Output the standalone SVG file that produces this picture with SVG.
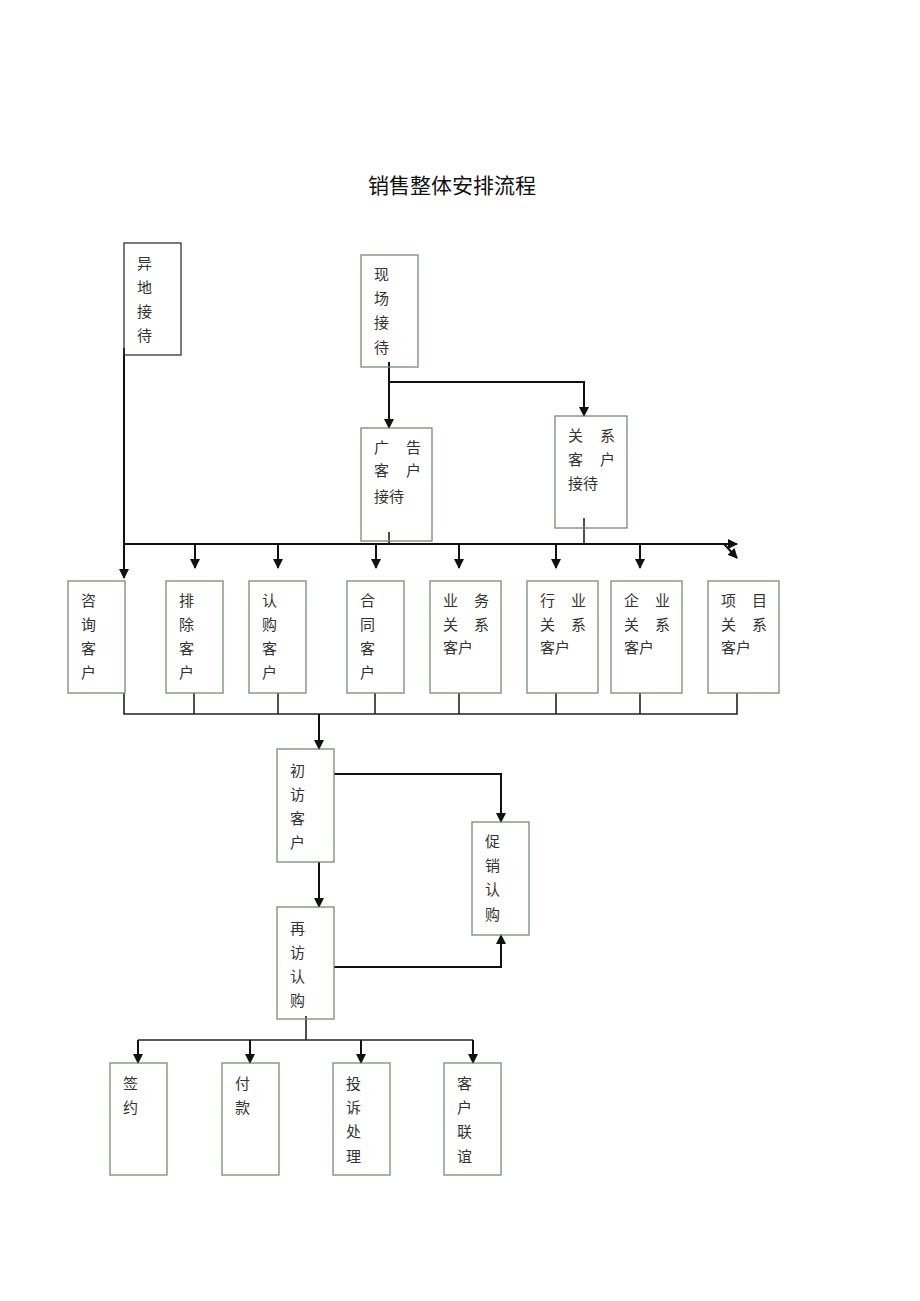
<svg xmlns="http://www.w3.org/2000/svg" width="920" height="1301" viewBox="0 0 920 1301">
<defs>
<marker id="ah" viewBox="0 0 10 10" refX="9" refY="5" markerWidth="10" markerHeight="10" markerUnits="userSpaceOnUse" orient="auto">
<path d="M0,0 L10,5 L0,10 Z" fill="#111"/>
</marker>
<style>
.box{fill:none;stroke:#7a8a7a;stroke-width:1.3}
.dark{stroke:#333}
.t{font-family:"Liberation Serif","Noto Sans CJK SC",serif;font-size:15px;fill:#333}
.title{font-family:"Liberation Serif","Noto Sans CJK SC",serif;font-size:21px;fill:#111}
.c{fill:none;stroke:#222;stroke-width:1.6}
.a{fill:none;stroke:#111;stroke-width:2;marker-end:url(#ah)}
</style>
</defs>
<rect width="920" height="1301" fill="#fff"/>
<text class="title" x="452" y="193" text-anchor="middle">销售整体安排流程</text>

<g id="connectors">
<line class="a" x1="124" y1="348" x2="124" y2="578"/>
<line class="a" x1="389" y1="362" x2="389" y2="428"/>
<polyline class="a" points="389,382 584,382 584,416"/>
<line class="c" x1="389" y1="532" x2="389" y2="544"/>
<line class="c" x1="584" y1="518" x2="584" y2="544"/>
<line class="a" x1="124" y1="544" x2="737" y2="544"/>
<line class="a" x1="724" y1="544" x2="737" y2="558"/>
<line class="a" x1="195" y1="544" x2="195" y2="568"/>
<line class="a" x1="278" y1="544" x2="278" y2="568"/>
<line class="a" x1="376" y1="544" x2="376" y2="568"/>
<line class="a" x1="459" y1="544" x2="459" y2="568"/>
<line class="a" x1="556" y1="544" x2="556" y2="568"/>
<line class="a" x1="640" y1="544" x2="640" y2="568"/>
<polyline class="c" points="124,693 124,714 737,714 737,693"/>
<line class="c" x1="194" y1="693" x2="194" y2="714"/>
<line class="c" x1="278" y1="693" x2="278" y2="714"/>
<line class="c" x1="375" y1="693" x2="375" y2="714"/>
<line class="c" x1="459" y1="693" x2="459" y2="714"/>
<line class="c" x1="556" y1="693" x2="556" y2="714"/>
<line class="c" x1="640" y1="693" x2="640" y2="714"/>
<line class="a" x1="319" y1="714" x2="319" y2="749"/>
<polyline class="a" points="334,774 501,774 501,822"/>
<line class="a" x1="319" y1="862" x2="319" y2="907"/>
<polyline class="a" points="334,967 501,967 501,935"/>
<line class="c" x1="306" y1="1016" x2="306" y2="1040"/>
<line class="c" x1="138" y1="1040" x2="473" y2="1040"/>
<line class="a" x1="138" y1="1040" x2="138" y2="1063"/>
<line class="a" x1="250" y1="1040" x2="250" y2="1063"/>
<line class="a" x1="361" y1="1040" x2="361" y2="1063"/>
<line class="a" x1="473" y1="1040" x2="473" y2="1063"/>
</g>

<g id="n-yidi"><rect class="box dark" x="124" y="243" width="57" height="112"/>
<text class="t" x="137" y="269">异</text><text class="t" x="137" y="293">地</text><text class="t" x="137" y="317">接</text><text class="t" x="137" y="341">待</text></g>

<g id="n-xianchang"><rect class="box" x="361" y="255" width="57" height="112"/>
<text class="t" x="374" y="280">现</text><text class="t" x="374" y="304">场</text><text class="t" x="374" y="328">接</text><text class="t" x="374" y="353">待</text></g>

<g id="n-guanggao"><rect class="box" x="361" y="428" width="71" height="113"/>
<text class="t" x="374" y="453">广</text><text class="t" x="406" y="453">告</text>
<text class="t" x="374" y="476">客</text><text class="t" x="406" y="476">户</text>
<text class="t" x="374" y="502">接待</text></g>

<g id="n-guanxi"><rect class="box" x="555" y="416" width="72" height="112"/>
<text class="t" x="568" y="441">关</text><text class="t" x="600" y="441">系</text>
<text class="t" x="568" y="465">客</text><text class="t" x="600" y="465">户</text>
<text class="t" x="568" y="489">接待</text></g>

<g id="n-zixun"><rect class="box" x="68" y="581" width="57" height="112"/>
<text class="t" x="81" y="606">咨</text><text class="t" x="81" y="630">询</text><text class="t" x="81" y="654">客</text><text class="t" x="81" y="678">户</text></g>

<g id="n-paichu"><rect class="box" x="166" y="581" width="57" height="112"/>
<text class="t" x="179" y="606">排</text><text class="t" x="179" y="630">除</text><text class="t" x="179" y="654">客</text><text class="t" x="179" y="678">户</text></g>

<g id="n-rengou"><rect class="box" x="249" y="581" width="57" height="112"/>
<text class="t" x="262" y="606">认</text><text class="t" x="262" y="630">购</text><text class="t" x="262" y="654">客</text><text class="t" x="262" y="678">户</text></g>

<g id="n-hetong"><rect class="box" x="347" y="581" width="57" height="112"/>
<text class="t" x="360" y="606">合</text><text class="t" x="360" y="630">同</text><text class="t" x="360" y="654">客</text><text class="t" x="360" y="678">户</text></g>

<g id="n-yewu"><rect class="box" x="430" y="581" width="71" height="112"/>
<text class="t" x="443" y="606">业</text><text class="t" x="474" y="606">务</text>
<text class="t" x="443" y="630">关</text><text class="t" x="474" y="630">系</text>
<text class="t" x="443" y="653">客户</text></g>

<g id="n-hangye"><rect class="box" x="527" y="581" width="71" height="112"/>
<text class="t" x="540" y="606">行</text><text class="t" x="571" y="606">业</text>
<text class="t" x="540" y="630">关</text><text class="t" x="571" y="630">系</text>
<text class="t" x="540" y="653">客户</text></g>

<g id="n-qiye"><rect class="box" x="611" y="581" width="71" height="112"/>
<text class="t" x="624" y="606">企</text><text class="t" x="655" y="606">业</text>
<text class="t" x="624" y="630">关</text><text class="t" x="655" y="630">系</text>
<text class="t" x="624" y="653">客户</text></g>

<g id="n-xiangmu"><rect class="box" x="708" y="581" width="71" height="112"/>
<text class="t" x="721" y="606">项</text><text class="t" x="752" y="606">目</text>
<text class="t" x="721" y="630">关</text><text class="t" x="752" y="630">系</text>
<text class="t" x="721" y="653">客户</text></g>

<g id="n-chufang"><rect class="box" x="277" y="749" width="57" height="113"/>
<text class="t" x="290" y="776">初</text><text class="t" x="290" y="800">访</text><text class="t" x="290" y="824">客</text><text class="t" x="290" y="848">户</text></g>

<g id="n-cuxiao"><rect class="box" x="472" y="822" width="57" height="113"/>
<text class="t" x="485" y="847">促</text><text class="t" x="485" y="871">销</text><text class="t" x="485" y="895">认</text><text class="t" x="485" y="920">购</text></g>

<g id="n-zaifang"><rect class="box" x="277" y="907" width="57" height="112"/>
<text class="t" x="290" y="934">再</text><text class="t" x="290" y="958">访</text><text class="t" x="290" y="982">认</text><text class="t" x="290" y="1006">购</text></g>

<g id="n-qianyue"><rect class="box" x="110" y="1063" width="57" height="112"/>
<text class="t" x="123" y="1089">签</text><text class="t" x="123" y="1113">约</text></g>

<g id="n-fukuan"><rect class="box" x="222" y="1063" width="57" height="112"/>
<text class="t" x="235" y="1089">付</text><text class="t" x="235" y="1113">款</text></g>

<g id="n-tousu"><rect class="box" x="333" y="1063" width="57" height="112"/>
<text class="t" x="346" y="1089">投</text><text class="t" x="346" y="1113">诉</text><text class="t" x="346" y="1137">处</text><text class="t" x="346" y="1162">理</text></g>

<g id="n-lianyi"><rect class="box" x="444" y="1063" width="57" height="112"/>
<text class="t" x="457" y="1089">客</text><text class="t" x="457" y="1113">户</text><text class="t" x="457" y="1137">联</text><text class="t" x="457" y="1162">谊</text></g>
</svg>
